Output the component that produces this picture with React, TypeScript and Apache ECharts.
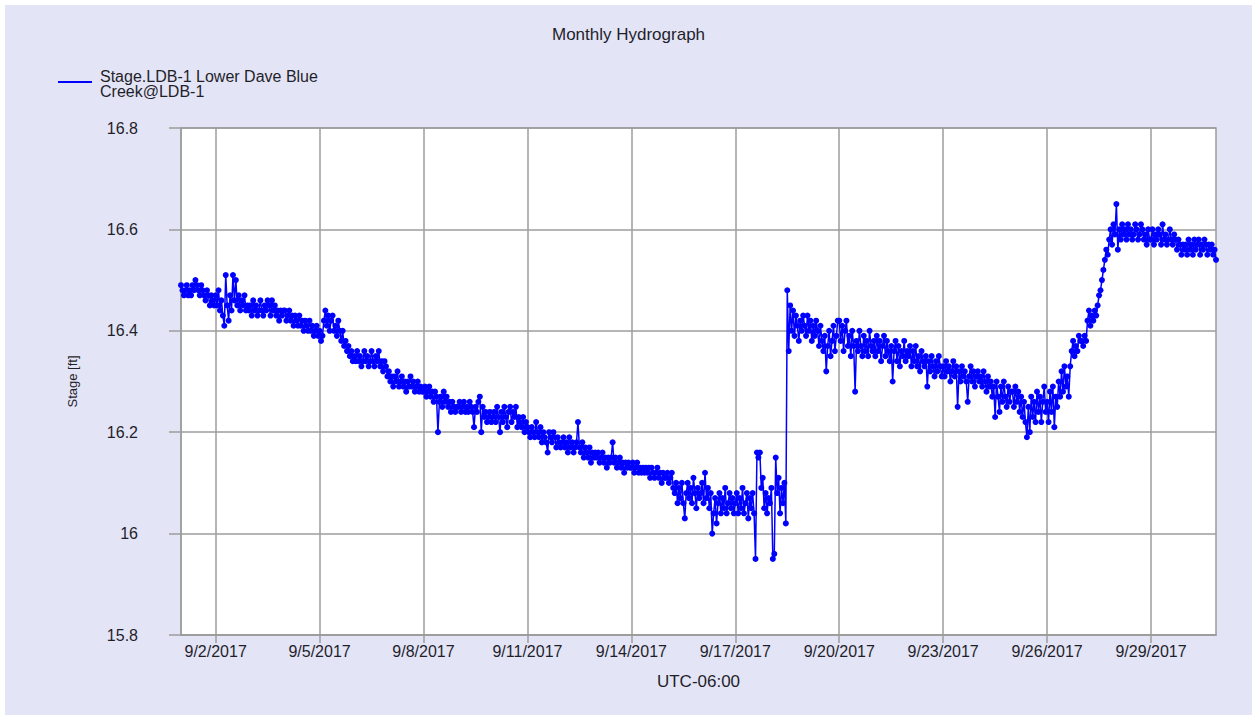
import { useEffect, useRef } from "react";
import * as echarts from "echarts";

// Stage [ft], one value per hour (00:00 ... 23:00), UTC-06:00
const sep01 = [16.49, 16.48, 16.47, 16.48, 16.49, 16.47, 16.48, 16.47, 16.49, 16.48, 16.50, 16.49, 16.48, 16.47, 16.49, 16.48, 16.47, 16.46, 16.48, 16.47, 16.45, 16.47, 16.46, 16.45];
const sep02 = [16.47, 16.45, 16.48, 16.44, 16.46, 16.43, 16.41, 16.51, 16.45, 16.42, 16.47, 16.44, 16.51, 16.46, 16.50, 16.45, 16.47, 16.44, 16.46, 16.45, 16.47, 16.44, 16.45, 16.44];
const sep03 = [16.45, 16.43, 16.46, 16.44, 16.45, 16.43, 16.44, 16.46, 16.44, 16.43, 16.45, 16.44, 16.46, 16.45, 16.43, 16.46, 16.44, 16.45, 16.43, 16.44, 16.42, 16.44, 16.43, 16.44];
const sep04 = [16.44, 16.42, 16.43, 16.44, 16.42, 16.43, 16.41, 16.43, 16.42, 16.41, 16.43, 16.41, 16.42, 16.40, 16.42, 16.41, 16.40, 16.42, 16.40, 16.41, 16.39, 16.40, 16.41, 16.39];
const sep05 = [16.40, 16.38, 16.39, 16.42, 16.44, 16.41, 16.43, 16.40, 16.42, 16.43, 16.40, 16.41, 16.39, 16.42, 16.40, 16.38, 16.40, 16.37, 16.38, 16.36, 16.37, 16.35, 16.36, 16.34];
const sep06 = [16.35, 16.34, 16.36, 16.34, 16.35, 16.33, 16.34, 16.36, 16.34, 16.35, 16.33, 16.34, 16.36, 16.34, 16.33, 16.35, 16.34, 16.36, 16.33, 16.34, 16.32, 16.34, 16.33, 16.31];
const sep07 = [16.32, 16.30, 16.31, 16.29, 16.31, 16.30, 16.32, 16.29, 16.30, 16.31, 16.29, 16.30, 16.28, 16.30, 16.29, 16.31, 16.29, 16.30, 16.28, 16.29, 16.30, 16.28, 16.29, 16.28];
const sep08 = [16.28, 16.29, 16.27, 16.28, 16.29, 16.27, 16.28, 16.26, 16.28, 16.27, 16.20, 16.26, 16.27, 16.25, 16.28, 16.26, 16.27, 16.25, 16.26, 16.24, 16.26, 16.25, 16.24, 16.25];
const sep09 = [16.25, 16.26, 16.24, 16.25, 16.26, 16.24, 16.25, 16.24, 16.26, 16.25, 16.24, 16.21, 16.25, 16.24, 16.26, 16.27, 16.20, 16.25, 16.23, 16.24, 16.22, 16.23, 16.24, 16.22];
const sep10 = [16.23, 16.24, 16.22, 16.25, 16.23, 16.20, 16.24, 16.22, 16.25, 16.23, 16.21, 16.24, 16.25, 16.22, 16.24, 16.23, 16.25, 16.21, 16.23, 16.22, 16.21, 16.23, 16.20, 16.22];
const sep11 = [16.21, 16.20, 16.19, 16.21, 16.20, 16.19, 16.22, 16.20, 16.19, 16.21, 16.18, 16.20, 16.19, 16.18, 16.16, 16.20, 16.19, 16.18, 16.20, 16.19, 16.17, 16.19, 16.18, 16.17];
const sep12 = [16.18, 16.19, 16.17, 16.18, 16.16, 16.19, 16.17, 16.18, 16.16, 16.17, 16.18, 16.22, 16.17, 16.16, 16.18, 16.15, 16.17, 16.16, 16.15, 16.17, 16.14, 16.16, 16.15, 16.16];
const sep13 = [16.15, 16.16, 16.14, 16.15, 16.16, 16.14, 16.15, 16.13, 16.15, 16.14, 16.15, 16.18, 16.14, 16.15, 16.13, 16.14, 16.15, 16.13, 16.14, 16.12, 16.14, 16.13, 16.14, 16.13];
const sep14 = [16.13, 16.14, 16.12, 16.13, 16.14, 16.12, 16.13, 16.12, 16.13, 16.12, 16.13, 16.12, 16.13, 16.11, 16.13, 16.12, 16.11, 16.12, 16.13, 16.11, 16.12, 16.10, 16.12, 16.11];
const sep15 = [16.11, 16.12, 16.10, 16.11, 16.12, 16.09, 16.08, 16.10, 16.06, 16.09, 16.07, 16.10, 16.06, 16.03, 16.08, 16.10, 16.07, 16.09, 16.06, 16.11, 16.08, 16.05, 16.09, 16.07];
const sep16 = [16.08, 16.10, 16.06, 16.12, 16.07, 16.09, 16.05, 16.08, 16.00, 16.04, 16.07, 16.02, 16.06, 16.08, 16.04, 16.07, 16.05, 16.09, 16.04, 16.06, 16.08, 16.05, 16.07, 16.04];
const sep17 = [16.06, 16.08, 16.04, 16.07, 16.05, 16.09, 16.04, 16.06, 16.08, 16.03, 16.07, 16.05, 16.08, 16.04, 15.95, 16.16, 16.15, 16.16, 16.09, 16.11, 16.05, 16.08, 16.04, 16.07];
const sep18 = [16.06, 16.09, 15.95, 15.96, 16.15, 16.08, 16.11, 16.04, 16.09, 16.06, 16.10, 16.02, 16.48, 16.36, 16.45, 16.40, 16.44, 16.39, 16.43, 16.41, 16.38, 16.42, 16.40, 16.43];
const sep19 = [16.41, 16.39, 16.43, 16.40, 16.42, 16.38, 16.41, 16.39, 16.42, 16.40, 16.37, 16.41, 16.38, 16.36, 16.39, 16.32, 16.37, 16.40, 16.35, 16.38, 16.41, 16.36, 16.39, 16.42];
const sep20 = [16.42, 16.38, 16.41, 16.36, 16.40, 16.42, 16.37, 16.39, 16.35, 16.40, 16.37, 16.28, 16.38, 16.36, 16.40, 16.37, 16.35, 16.39, 16.36, 16.38, 16.35, 16.40, 16.37, 16.36];
const sep21 = [16.38, 16.35, 16.39, 16.36, 16.38, 16.34, 16.37, 16.39, 16.35, 16.38, 16.36, 16.34, 16.37, 16.30, 16.36, 16.38, 16.34, 16.37, 16.33, 16.36, 16.35, 16.38, 16.34, 16.36];
const sep22 = [16.35, 16.37, 16.33, 16.36, 16.34, 16.37, 16.33, 16.35, 16.32, 16.36, 16.34, 16.33, 16.35, 16.29, 16.34, 16.32, 16.35, 16.33, 16.31, 16.34, 16.32, 16.35, 16.33, 16.31];
const sep23 = [16.33, 16.31, 16.34, 16.32, 16.33, 16.30, 16.32, 16.34, 16.31, 16.33, 16.25, 16.32, 16.30, 16.33, 16.31, 16.32, 16.30, 16.26, 16.31, 16.33, 16.30, 16.32, 16.29, 16.31];
const sep24 = [16.32, 16.30, 16.31, 16.29, 16.32, 16.30, 16.28, 16.31, 16.29, 16.30, 16.27, 16.29, 16.23, 16.30, 16.27, 16.24, 16.29, 16.26, 16.30, 16.27, 16.25, 16.29, 16.26, 16.28];
const sep25 = [16.28, 16.25, 16.29, 16.26, 16.28, 16.24, 16.27, 16.23, 16.26, 16.22, 16.19, 16.25, 16.20, 16.27, 16.23, 16.26, 16.22, 16.28, 16.24, 16.27, 16.22, 16.26, 16.29, 16.24];
const sep26 = [16.26, 16.22, 16.28, 16.24, 16.29, 16.21, 16.27, 16.25, 16.30, 16.27, 16.32, 16.28, 16.33, 16.29, 16.31, 16.27, 16.33, 16.36, 16.38, 16.35, 16.37, 16.36, 16.39, 16.38];
const sep27 = [16.38, 16.37, 16.39, 16.38, 16.42, 16.44, 16.41, 16.43, 16.42, 16.44, 16.43, 16.45, 16.47, 16.48, 16.50, 16.52, 16.54, 16.56, 16.55, 16.58, 16.60, 16.57, 16.61, 16.59];
const sep28 = [16.65, 16.56, 16.60, 16.58, 16.61, 16.59, 16.60, 16.58, 16.61, 16.59, 16.60, 16.58, 16.59, 16.61, 16.60, 16.58, 16.59, 16.61, 16.60, 16.58, 16.59, 16.57, 16.60, 16.58];
const sep29 = [16.58, 16.60, 16.57, 16.59, 16.58, 16.60, 16.59, 16.57, 16.61, 16.58, 16.59, 16.57, 16.58, 16.60, 16.58, 16.57, 16.59, 16.58, 16.56, 16.58, 16.57, 16.55, 16.57, 16.56];
const sep30 = [16.57, 16.55, 16.58, 16.56, 16.57, 16.55, 16.58, 16.56, 16.57, 16.58, 16.55, 16.57, 16.56, 16.58, 16.57, 16.55, 16.57, 16.56, 16.57, 16.55, 16.56, 16.54];

const days = [
  sep01, sep02, sep03, sep04, sep05, sep06, sep07, sep08, sep09, sep10,
  sep11, sep12, sep13, sep14, sep15, sep16, sep17, sep18, sep19, sep20,
  sep21, sep22, sep23, sep24, sep25, sep26, sep27, sep28, sep29, sep30,
];

// x axis in hours since 9/1/2017 00:00
const tickHours = [24, 96, 168, 240, 312, 384, 456, 528, 600, 672];
const tickLabels = [
  "9/2/2017", "9/5/2017", "9/8/2017", "9/11/2017", "9/14/2017",
  "9/17/2017", "9/20/2017", "9/23/2017", "9/26/2017", "9/29/2017",
];

const FONT = "'Liberation Sans', Arial, sans-serif";
const TEXT = "#1f1f2a";
const GRID = "#9c9c9c";

export default function App() {
  const ref = useRef<HTMLDivElement>(null);
  useEffect(() => {
    if (!ref.current) return;
    const chart = echarts.init(ref.current, null, { renderer: "svg" });
    const data: number[][] = [];
    days.forEach((vals, d) => {
      vals.forEach((v, h) => data.push([d * 24 + h, v]));
    });
    chart.setOption({
      animation: false,
      backgroundColor: "#E4E4F7",
      title: {
        text: "Monthly Hydrograph",
        left: "center",
        top: 21,
        padding: 0,
        textStyle: { fontFamily: FONT, fontSize: 17, fontWeight: "normal", color: TEXT },
      },
      graphic: [
        {
          type: "line",
          shape: { x1: 53, y1: 77, x2: 87, y2: 77 },
          style: { stroke: "#0000FF", lineWidth: 2 },
        },
        {
          type: "text",
          x: 95,
          y: 71,
          style: {
            text: "Stage.LDB-1 Lower Dave Blue",
            font: `16px ${FONT}`,
            fill: TEXT,
            verticalAlign: "middle",
          },
        },
        {
          type: "text",
          x: 95,
          y: 86,
          style: {
            text: "Creek@LDB-1",
            font: `16px ${FONT}`,
            fill: TEXT,
            verticalAlign: "middle",
          },
        },
      ],
      grid: {
        left: 176,
        right: 36,
        top: 123,
        bottom: 80,
        show: true,
        backgroundColor: "#ffffff",
        borderColor: GRID,
        borderWidth: 1.5,
      },
      xAxis: {
        type: "value",
        min: 0,
        max: 717,
        name: "UTC-06:00",
        nameLocation: "middle",
        nameGap: 38,
        nameTextStyle: { fontFamily: FONT, fontSize: 17, color: TEXT },
        axisLine: { show: true, lineStyle: { color: GRID, width: 1.5 } },
        axisTick: {
          show: true,
          inside: false,
          length: 8,
          customValues: tickHours,
          lineStyle: { color: GRID, width: 1.5 },
        },
        axisLabel: {
          customValues: tickHours,
          margin: 8,
          fontFamily: FONT,
          fontSize: 16,
          color: TEXT,
          formatter: (v: number) => {
            const i = tickHours.indexOf(Math.round(v));
            return i >= 0 ? tickLabels[i] : "";
          },
        },
        splitLine: { show: true, lineStyle: { color: GRID, width: 1.5 } },
      },
      yAxis: {
        type: "value",
        min: 15.8,
        max: 16.8,
        interval: 0.2,
        offset: 26,
        name: "Stage [ft]",
        nameLocation: "middle",
        nameGap: 76,
        nameRotate: 90,
        nameTextStyle: { fontFamily: FONT, fontSize: 13, color: TEXT },
        axisLine: { show: true, lineStyle: { color: GRID, width: 1.5 } },
        axisTick: { show: true, inside: false, length: 12, lineStyle: { color: GRID, width: 1.5 } },
        axisLabel: { margin: 17, fontFamily: FONT, fontSize: 16, color: TEXT },
        splitLine: { show: true, lineStyle: { color: GRID, width: 1.5 } },
      },
      series: [
        {
          name: "Stage.LDB-1 Lower Dave Blue Creek@LDB-1",
          type: "line",
          data,
          showSymbol: true,
          showAllSymbol: true,
          symbol: "circle",
          symbolSize: 6,
          itemStyle: { color: "#0000FF" },
          lineStyle: { color: "#0000FF", width: 1.5 },
        },
      ],
    });
    return () => chart.dispose();
  }, []);
  return (
    <div style={{ position: "fixed", left: 5, top: 5, width: 1247, height: 710, background: "#E4E4F7" }}>
      <div ref={ref} style={{ width: "100%", height: "100%" }} />
    </div>
  );
}
